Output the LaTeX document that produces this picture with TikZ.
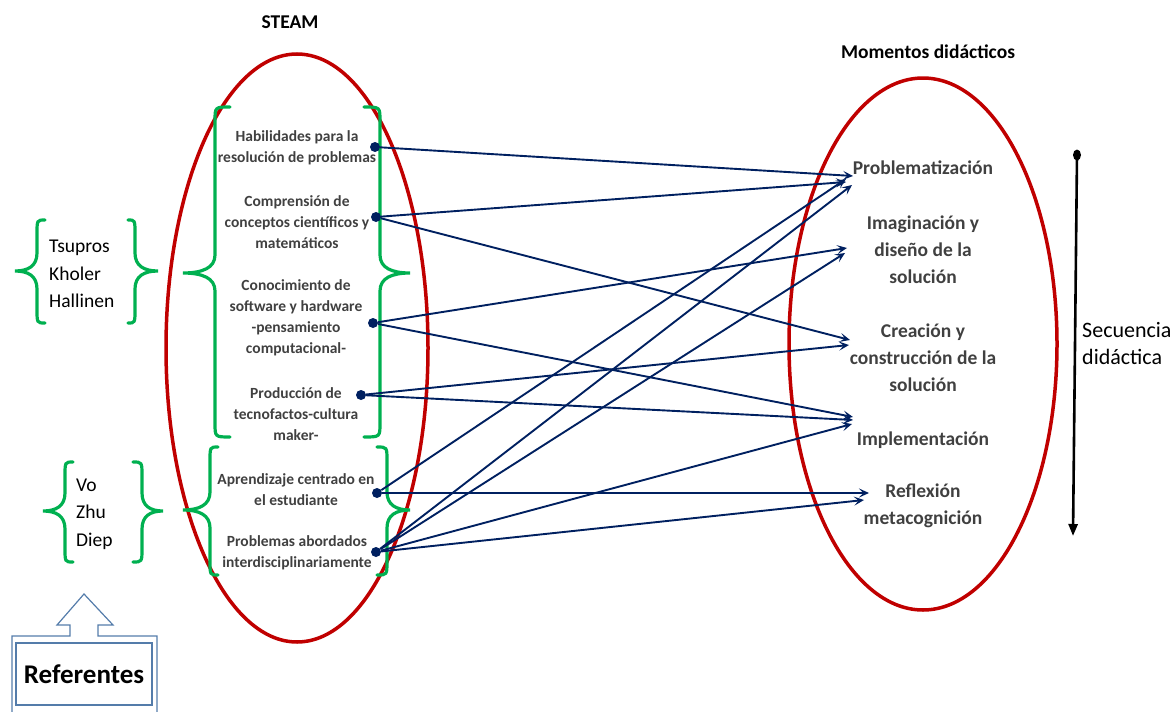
\documentclass[tikz,border=0pt]{standalone}
\usepackage{fontspec}
\setmainfont{Carlito}
\usetikzlibrary{arrows.meta,shapes.geometric}

\definecolor{ringred}{RGB}{192,0,0}
\definecolor{bracegreen}{RGB}{0,176,80}
\definecolor{linknavy}{RGB}{0,32,96}
\definecolor{itemgray}{RGB}{64,64,64}
\definecolor{calloutblue}{RGB}{84,124,170}

% curly brace: #1 stem x, #2 end x, #3 tip x, #4 top y, #5 tip y, #6 bottom y
\newcommand{\curlybrace}[6]{%
  \draw[bracestroke] (#2,#4) .. controls (#1,#4) .. (#1,#4+14)
    -- (#1,#5-18) .. controls (#1,#5-5) and ({#1+0.4*(#3-#1)},#5) .. (#3,#5)
    .. controls ({#1+0.4*(#3-#1)},#5) and (#1,#5+5) .. (#1,#5+18)
    -- (#1,#6-14) .. controls (#1,#6) .. (#2,#6);}

\tikzset{
  ring/.style={draw=ringred, line width=3.5pt},
  bracestroke/.style={draw=bracegreen, line width=3.2pt, line cap=round},
  item/.style={text=itemgray, font=\bfseries\fontsize{15.5}{21}\selectfont, align=center, inner sep=0pt},
  moment/.style={text=itemgray, font=\bfseries\fontsize{19.5}{27}\selectfont, align=center, inner sep=0pt},
  author/.style={font=\fontsize{19.5}{27.5}\selectfont, align=left, anchor=west, inner sep=0pt},
  heading/.style={font=\bfseries\fontsize{19.5}{23}\selectfont, inner sep=0pt},
  dot/.style={circle, fill=linknavy, inner sep=0pt, minimum size=10pt},
  link/.style={draw=linknavy, line width=1.9pt, -{Stealth[length=10pt,width=9pt,inset=4.5pt]}},
  callout/.style={draw=calloutblue, line width=1.2pt},
}

\begin{document}
\begin{tikzpicture}[x=1pt,y=-1pt]
\useasboundingbox (0,0) rectangle (1176,712);

% the two groupings
\draw[ring] (297,348) ellipse [x radius=131, y radius=294];
\draw[ring] (923,344) ellipse [x radius=134, y radius=266];

% headings
\node[heading] (steam) at (290,22) {STEAM};
\node[heading] (momentos) at (928,52) {Momentos didácticos};

% braces round the STEAM components
\curlybrace{215}{230}{183}{107}{273}{437}
\curlybrace{380}{364}{410}{107}{273}{437}
\curlybrace{210}{218}{183}{447}{510}{575}
\curlybrace{387}{377}{410}{447}{510}{575}

% braces round the authors
\curlybrace{37}{45}{15}{220}{271}{323}
\curlybrace{135}{128}{158}{220}{271}{323}
\curlybrace{65}{73}{43}{462}{511}{562}
\curlybrace{142}{133}{163}{462}{511}{562}

\node[author] (autoresA) at (49,274) {Tsupros\\Kholer\\Hallinen};
\node[author] (autoresB) at (76,514) {Vo\\Zhu\\Diep};

% STEAM components
\node[item] (c1) at (297,148) {Habilidades para la\\resolución de problemas};
\node[item] (c2) at (297,222) {Comprensión de\\conceptos científicos y\\matemáticos};
\node[item] (c3) at (296,318) {Conocimiento de\\software y hardware\\-pensamiento\\computacional-};
\node[item] (c4) at (296,414) {Producción de\\tecnofactos-cultura\\maker-};
\node[item] (c5) at (296,490) {Aprendizaje centrado en\\el estudiante};
\node[item] (c6) at (297,553) {Problemas abordados\\interdisciplinariamente};

% didactic moments
\node[moment] (m1) at (923,168) {Problematización};
\node[moment] (m2) at (923,250) {Imaginación y\\diseño de la\\solución};
\node[moment] (m3) at (923,358) {Creación y\\construcción de la\\solución};
\node[moment] (m4) at (923,440) {Implementación};
\node[moment] (m5) at (923,506) {Reflexión\\metacognición};

% sequence axis
\node[ellipse, fill=black, inner sep=0pt, minimum width=8pt, minimum height=11pt] (seqtop) at (1077,155) {};
\coordinate (seqend) at (1073,536);
\draw[line width=2.6pt, -{Triangle[length=12pt,width=9pt]}] (seqtop.center) -- (seqend);
\node[author, font=\fontsize{22}{27}\selectfont] (secuencia) at (1082,344) {Secuencia\\didáctica};

% referents callout
\draw[callout] (12,720) -- (12,636) -- (70,636) -- (70,625) -- (57,625) -- (84,594)
  -- (113,625) -- (98,625) -- (98,636) -- (157,636) -- (157,720);
\node[draw=calloutblue, line width=1.2pt, minimum width=136, minimum height=62,
  font=\bfseries\fontsize{27}{30}\selectfont] (ref) at (84,674) {Referentes};

% link start points
\node[dot] (d1) at (375,147) {};
\node[dot] (d2) at (376,217) {};
\node[dot] (d3) at (373,323) {};
\node[dot] (d4) at (361,395) {};
\node[dot] (d5) at (377,493) {};
\node[dot] (d6) at (376,552) {};

% arrow ends beside the moments
\coordinate (tP1) at (853,176);
\coordinate (tP2) at (846,182);
\coordinate (tP3) at (846,179);
\coordinate (tP4) at (852,185);
\coordinate (tI1) at (847,248);
\coordinate (tI2) at (845,253);
\coordinate (tC1) at (850,340);
\coordinate (tC2) at (849,345);
\coordinate (tM1) at (853,417);
\coordinate (tM2) at (853,420);
\coordinate (tM3) at (852,424);
\coordinate (tR1) at (869,493);
\coordinate (tR2) at (864,500);

\draw[link] (d1) -- (tP1);
\draw[link] (d2) -- (tP2);
\draw[link] (d2) -- (tC1);
\draw[link] (d3) -- (tI1);
\draw[link] (d3) -- (tM1);
\draw[link] (d4) -- (tC2);
\draw[link] (d4) -- (tM2);
\draw[link] (d5) -- (tP3);
\draw[link] (d5) -- (tR1);
\draw[link] (d6) -- (tP4);
\draw[link] (d6) -- (tI2);
\draw[link] (d6) -- (tM3);
\draw[link] (d6) -- (tR2);
\end{tikzpicture}
\end{document}
